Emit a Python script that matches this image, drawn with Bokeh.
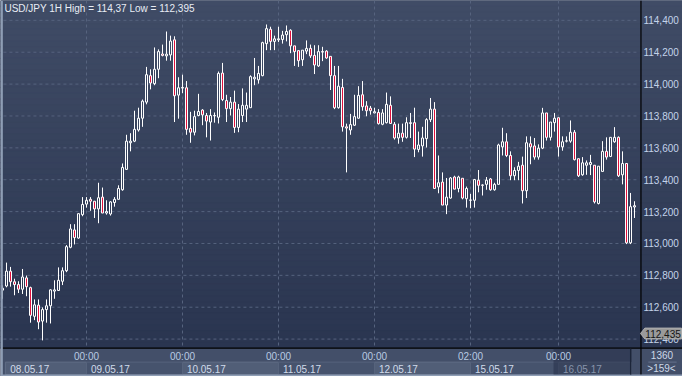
from bokeh.plotting import figure
from bokeh.models import Range1d, ColumnDataSource
from bokeh.embed import file_html
from bokeh.resources import INLINE
from bokeh.core.properties import value

# ---------------- data ----------------
opens = [112.707, 112.733, 112.826, 112.760, 112.742, 112.713, 112.784, 112.723, 112.543, 112.613,
         112.513, 112.585, 112.609, 112.701, 112.705, 112.763, 112.829, 112.976, 113.085, 113.034,
         113.181, 113.247, 113.277, 113.265, 113.217, 113.291, 113.191, 113.185, 113.257, 113.277,
         113.337, 113.465, 113.632, 113.642, 113.712, 113.786, 113.887, 114.053, 114.003, 114.093,
         114.189, 114.177, 114.183, 114.278, 113.931, 113.975, 113.977, 113.722, 113.698, 113.803,
         113.837, 113.803, 113.762, 113.801, 113.792, 114.069, 113.897, 113.846, 113.887, 113.728,
         113.803, 113.843, 113.852, 114.033, 114.027, 114.053, 114.254, 114.344, 114.268, 114.278,
         114.280, 114.310, 114.338, 114.240, 114.210, 114.153, 114.207, 114.224, 114.180, 114.114,
         114.201, 114.207, 114.174, 114.053, 113.852, 113.979, 113.732, 113.712, 113.742, 113.786,
         113.933, 113.863, 113.849, 113.819, 113.822, 113.748, 113.758, 113.867, 113.748, 113.662,
         113.692, 113.666, 113.753, 113.758, 113.590, 113.612, 113.658, 113.777, 113.843, 113.355,
         113.385, 113.241, 113.285, 113.417, 113.345, 113.409, 113.281, 113.271, 113.271, 113.397,
         113.367, 113.371, 113.405, 113.337, 113.371, 113.606, 113.638, 113.552, 113.425, 113.458,
         113.491, 113.331, 113.626, 113.612, 113.542, 113.598, 113.819, 113.666, 113.758, 113.789,
         113.606, 113.642, 113.642, 113.698, 113.532, 113.431, 113.491, 113.496, 113.491, 113.251,
         113.452, 113.578, 113.546, 113.638, 113.666, 113.431, 113.502, 113.004, 113.229]
highs = [112.737, 112.880, 112.853, 112.779, 112.763, 112.840, 112.799, 112.729, 112.649, 112.649,
         112.599, 112.649, 112.713, 112.769, 112.850, 112.850, 112.990, 113.121, 113.121, 113.189,
         113.291, 113.291, 113.291, 113.267, 113.381, 113.351, 113.271, 113.265, 113.291, 113.365,
         113.502, 113.682, 113.692, 113.833, 113.852, 113.903, 114.108, 114.093, 114.230, 114.218,
         114.248, 114.330, 114.304, 114.300, 114.043, 114.059, 114.019, 113.826, 113.833, 113.939,
         113.843, 113.819, 113.843, 113.822, 114.079, 114.133, 113.933, 113.919, 113.959, 113.875,
         113.973, 113.947, 114.055, 114.164, 114.114, 114.266, 114.374, 114.360, 114.304, 114.360,
         114.334, 114.368, 114.344, 114.240, 114.210, 114.213, 114.274, 114.248, 114.244, 114.244,
         114.234, 114.213, 114.174, 114.114, 114.114, 114.033, 113.752, 113.813, 113.933, 113.987,
         114.019, 113.893, 113.863, 113.852, 113.843, 113.843, 113.947, 113.923, 113.762, 113.752,
         113.752, 113.792, 113.819, 113.852, 113.702, 113.732, 113.786, 113.913, 113.887, 113.552,
         113.446, 113.411, 113.417, 113.425, 113.425, 113.409, 113.357, 113.311, 113.405, 113.461,
         113.371, 113.417, 113.411, 113.381, 113.626, 113.726, 113.692, 113.578, 113.478, 113.512,
         113.545, 113.672, 113.672, 113.662, 113.622, 113.851, 113.819, 113.762, 113.819, 113.792,
         113.672, 113.672, 113.772, 113.712, 113.532, 113.542, 113.521, 113.556, 113.491, 113.485,
         113.642, 113.666, 113.666, 113.730, 113.672, 113.578, 113.502, 113.317, 113.265]
lows = [112.653, 112.725, 112.729, 112.675, 112.689, 112.683, 112.669, 112.503, 112.519, 112.462,
        112.392, 112.503, 112.498, 112.653, 112.705, 112.739, 112.820, 112.970, 112.994, 113.030,
        113.171, 113.225, 113.205, 113.160, 113.127, 113.191, 113.181, 113.175, 113.231, 113.277,
        113.331, 113.461, 113.578, 113.636, 113.702, 113.732, 113.873, 113.967, 113.993, 114.037,
        114.174, 114.147, 114.147, 113.762, 113.783, 113.943, 113.682, 113.632, 113.678, 113.798,
        113.742, 113.666, 113.646, 113.758, 113.753, 113.893, 113.762, 113.803, 113.694, 113.698,
        113.762, 113.762, 113.852, 113.993, 114.003, 114.049, 114.213, 114.213, 114.213, 114.264,
        114.254, 114.268, 114.194, 114.114, 114.108, 114.114, 114.188, 114.164, 114.063, 114.108,
        114.144, 114.159, 113.963, 113.843, 113.846, 113.702, 113.446, 113.682, 113.738, 113.783,
        113.833, 113.798, 113.808, 113.817, 113.746, 113.742, 113.753, 113.753, 113.652, 113.626,
        113.638, 113.658, 113.662, 113.542, 113.572, 113.545, 113.602, 113.762, 113.345, 113.315,
        113.241, 113.184, 113.281, 113.341, 113.321, 113.277, 113.225, 113.221, 113.225, 113.321,
        113.301, 113.337, 113.331, 113.331, 113.371, 113.552, 113.542, 113.397, 113.397, 113.397,
        113.251, 113.285, 113.497, 113.526, 113.526, 113.592, 113.646, 113.646, 113.702, 113.545,
        113.582, 113.634, 113.632, 113.521, 113.417, 113.425, 113.431, 113.429, 113.251, 113.245,
        113.452, 113.526, 113.542, 113.632, 113.417, 113.371, 112.996, 112.996, 113.160]
closes = [112.719, 112.826, 112.760, 112.742, 112.713, 112.790, 112.729, 112.549, 112.615, 112.507,
          112.585, 112.609, 112.709, 112.709, 112.769, 112.829, 112.980, 113.091, 113.037, 113.187,
          113.245, 113.271, 113.265, 113.217, 113.287, 113.191, 113.201, 113.261, 113.277, 113.345,
          113.477, 113.642, 113.642, 113.716, 113.786, 113.893, 114.059, 114.007, 114.093, 114.204,
          114.180, 114.188, 114.270, 113.927, 113.977, 113.979, 113.716, 113.698, 113.796, 113.828,
          113.807, 113.768, 113.803, 113.803, 114.067, 113.903, 113.846, 113.887, 113.728, 113.843,
          113.867, 113.867, 114.047, 114.043, 114.067, 114.260, 114.348, 114.268, 114.284, 114.284,
          114.308, 114.330, 114.240, 114.204, 114.147, 114.213, 114.224, 114.177, 114.120, 114.204,
          114.204, 114.164, 114.053, 113.852, 113.987, 113.732, 113.724, 113.746, 113.796, 113.929,
          113.858, 113.833, 113.833, 113.827, 113.752, 113.819, 113.873, 113.753, 113.662, 113.692,
          113.666, 113.758, 113.758, 113.592, 113.618, 113.662, 113.777, 113.843, 113.345, 113.381,
          113.241, 113.291, 113.411, 113.341, 113.417, 113.285, 113.345, 113.273, 113.401, 113.365,
          113.365, 113.397, 113.337, 113.371, 113.618, 113.638, 113.552, 113.425, 113.458, 113.485,
          113.331, 113.632, 113.606, 113.542, 113.598, 113.819, 113.666, 113.762, 113.786, 113.606,
          113.638, 113.644, 113.698, 113.526, 113.425, 113.506, 113.506, 113.508, 113.261, 113.485,
          113.578, 113.542, 113.666, 113.666, 113.425, 113.502, 113.004, 113.231, 113.237]

price_ticks = [112.4, 112.6, 112.8, 113.0, 113.2, 113.4, 113.6, 113.8, 114.0, 114.2, 114.4]
price_labels = ["112,400", "112,600", "112,800", "113,000", "113,200", "113,400",
                "113,600", "113,800", "114,000", "114,200", "114,400"]
day_index = [21, 45, 69, 93, 117, 139]
time_labels = ["00:00", "00:00", "00:00", "00:00", "02:00", "00:00"]
date_labels = ["08.05.17", "09.05.17", "10.05.17", "11.05.17", "12.05.17", "15.05.17", "16.05.17"]
last_price = 112.435
last_price_label = "112,435"
title_text = "USD/JPY 1H High = 114,37 Low = 112,395"
bars_total = "1360"
bars_visible = ">159<"

# ---------------- geometry (reference pixels -> data) ----------------
W, H = 682, 376
REF_W, REF_H = 698, 392
SX = W / REF_W
PX_PER_BAR = 4.0
BAR0_PX = 2.0
TOP_TICK_PX, BOT_TICK_PX = 20.7, 353.0


def X(ref_px):
    return (ref_px * SX - BAR0_PX) / PX_PER_BAR


def P(ref_py):
    hi, lo = price_ticks[-1], price_ticks[0]
    return hi - (ref_py - TOP_TICK_PX) * (hi - lo) / (BOT_TICK_PX - TOP_TICK_PX)


PLOT_R = 655.5   # right edge of the candle area (ref px)
PLOT_B = 362.5   # bottom edge of the candle area (ref px)
FONT = value("Liberation Sans")
FS = "10px"

p = figure(width=W, height=H, x_range=Range1d(X(0), X(REF_W)), y_range=Range1d(P(REF_H), P(0)),
           toolbar_location=None, output_backend="svg", x_axis_location=None,
           y_axis_location=None, min_border=0, title=None)
p.xgrid.visible = False
p.ygrid.visible = False
p.outline_line_color = None
p.background_fill_color = "#2c3752"
p.border_fill_color = "#2c3752"

# background gradient of the chart area
top_rgb, bot_rgb = (64, 76, 102), (42, 53, 80)
NB = 60
g_top, g_bot, g_col = [], [], []
for k in range(NB):
    f = (k + 0.5) / NB
    rgb = tuple(int(round(a + (b - a) * f)) for a, b in zip(top_rgb, bot_rgb))
    g_col.append("#%02x%02x%02x" % rgb)
    g_top.append(P(PLOT_B * k / NB))
    g_bot.append(P(PLOT_B * (k + 1) / NB))
p.quad(left=X(0), right=X(REF_W), top=g_top, bottom=g_bot, fill_color=g_col, line_color=g_col,
       line_width=1)

# bottom time strip
p.quad(left=X(0), right=X(REF_W), top=P(PLOT_B), bottom=P(REF_H), fill_color="#434f69",
       line_color=None)
cell_left = [X(5)] + day_index
cell_right = day_index + [X(PLOT_R - 10)]
light = [i % 2 == 0 for i in range(len(date_labels))]
p.quad(left=[l for l, f in zip(cell_left, light) if f], right=[r for r, f in zip(cell_right, light) if f],
       top=P(377), bottom=P(390), fill_color="#515e77", line_color="#5f6c85", line_width=1)
p.quad(left=[l for l, f in zip(cell_left, light) if not f], right=[r for r, f in zip(cell_right, light) if not f],
       top=P(377), bottom=P(390), fill_color="#46536d", line_color="#56637c", line_width=1)

# grid
p.segment(x0=X(3), x1=X(PLOT_R - 2), y0=price_ticks, y1=price_ticks, line_color="#56637e",
          line_width=1, line_dash="3 3")
p.segment(x0=day_index, x1=day_index, y0=P(0), y1=P(PLOT_B), line_color="#56637e",
          line_width=1, line_dash="3 3")

# candles
idx = list(range(len(opens)))
b_top = [max(o, c) for o, c in zip(opens, closes)]
b_bot = [min(o, c) for o, c in zip(opens, closes)]
b_top = [max(t, b + 0.0012) for t, b in zip(b_top, b_bot)]
p.segment(x0=idx, x1=idx, y0=highs, y1=b_top, line_color="white", line_width=1)
p.segment(x0=idx, x1=idx, y0=b_bot, y1=lows, line_color="white", line_width=1)
up = [c >= o for o, c in zip(opens, closes)]
src_up = ColumnDataSource(dict(x=[i for i, u in zip(idx, up) if u],
                               top=[t for t, u in zip(b_top, up) if u],
                               bottom=[b for b, u in zip(b_bot, up) if u]))
src_dn = ColumnDataSource(dict(x=[i for i, u in zip(idx, up) if not u],
                               top=[t for t, u in zip(b_top, up) if not u],
                               bottom=[b for b, u in zip(b_bot, up) if not u]))
p.vbar(x="x", top="top", bottom="bottom", width=0.5, source=src_up, fill_alpha=0,
       line_color="white", line_width=1)
p.vbar(x="x", top="top", bottom="bottom", width=0.5, source=src_dn, fill_color="#e0103c",
       line_color="white", line_width=1)

# frame lines
p.segment(x0=X(PLOT_R), x1=X(PLOT_R), y0=P(0), y1=P(REF_H), line_color="black", line_width=1.2)
p.segment(x0=X(0), x1=X(REF_W), y0=P(PLOT_B), y1=P(PLOT_B), line_color="black", line_width=1.2)
p.quad(left=X(0), right=X(2.4), top=P(0), bottom=P(REF_H), fill_color="#8f9eb5", line_color=None)
p.quad(left=X(0), right=X(REF_W), top=P(390), bottom=P(REF_H), fill_color="#8f9eb5", line_color=None)

# scroll thumb overlay on the last day
p.quad(left=X(566), right=X(645), top=P(363), bottom=P(390), fill_color="#263049", fill_alpha=0.55,
       line_color=None)
p.segment(x0=X(645), x1=X(645), y0=P(363), y1=P(390), line_color="#1c2539", line_width=1.5)

# price labels
p.text(x=X(658), y=price_ticks, text=price_labels, text_font=FONT, text_font_size=FS,
       text_color="#c3d3ea", text_align="left", text_baseline="middle")

# last price tag
p.patch(x=[X(655), X(659.5), X(697), X(697), X(659.5)],
        y=[last_price, last_price + 0.034, last_price + 0.034, last_price - 0.034, last_price - 0.034],
        fill_color="#9a9a9a", line_color="#b0b0b0", line_width=1)
p.text(x=X(660), y=[last_price], text=[last_price_label], text_font=FONT, text_font_size=FS,
       text_color="#151515", text_align="left", text_baseline="middle")

# time / date labels
p.text(x=day_index, y=P(371), text=time_labels, text_font=FONT, text_font_size=FS,
       text_color="#b9cbe3", text_align="center", text_baseline="middle")
date_x = [X(10)] + [d + 1.1 for d in day_index]
date_col = ["#d0dbea"] * (len(date_labels) - 1) + ["#8794ab"]
p.text(x=date_x, y=P(384), text=date_labels, text_font=FONT, text_font_size=FS,
       text_color=date_col, text_align="left", text_baseline="middle")

# bottom-right counters
p.segment(x0=X(663), x1=X(692), y0=P(377), y1=P(377), line_color="#65728b", line_width=1)
p.text(x=[X(677), X(676.5)], y=[P(370), P(384)], text=[bars_total, bars_visible], text_font=FONT,
       text_font_size=FS, text_color="#cdd8e8", text_align="center", text_baseline="middle")

# header
p.text(x=X(4), y=P(8), text=[title_text], text_font=FONT, text_font_size=FS,
       text_color="#e8edf5", text_align="left", text_baseline="middle")

open("out.html", "w").write(file_html(p, INLINE))
